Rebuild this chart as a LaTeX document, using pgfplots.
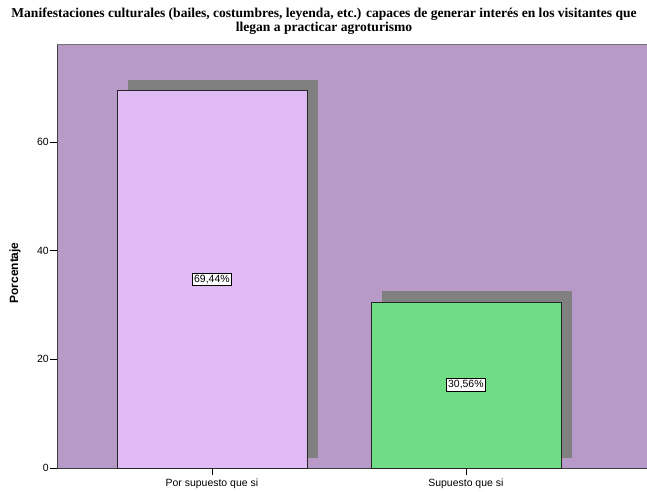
\documentclass[border=0pt]{standalone}
\usepackage{fontspec}
\setmainfont{Liberation Serif}
\setsansfont{Liberation Sans}
\usepackage{pgfplots}
\pgfplotsset{compat=1.18}
\definecolor{bgp}{RGB}{184,154,200}
\definecolor{bara}{RGB}{223,186,243}
\definecolor{barb}{RGB}{112,221,134}
\definecolor{shd}{RGB}{128,128,128}
\begin{document}
\begin{tikzpicture}
\useasboundingbox (0,0) rectangle (647bp,492bp);
\node[font=\bfseries\fontsize{13.6}{14}\selectfont, align=center, inner sep=0pt] at (324bp,471bp) {Manifestaciones culturales (bailes, costumbres, leyenda, etc.) capaces de generar interés en los visitantes que\\llegan a practicar agroturismo};
\begin{axis}[
  at={(57bp,24bp)}, anchor=south west,
  scale only axis, width=593bp, height=424bp,
  xmin=-0.61, xmax=1.725, ymin=0, ymax=78,
  axis lines*=left,
  axis line style={-, draw=black!75, line width=0.8pt},
  axis background/.style={fill=bgp},
  ytick={0,20,40,60},
  xtick={0,1},
  xticklabels={Por supuesto que si, Supuesto que si},
  tick align=outside,
  major tick length=7bp,
  tick style={black, thin},
  /pgf/number format/assume math mode=true,
  ticklabel style={font=\sffamily\fontsize{10.5}{12}\selectfont},
  yticklabel style={inner sep=1bp},
  ylabel={Porcentaje},
  ylabel style={font=\sffamily\bfseries\fontsize{12}{14}\selectfont, at={(axis description cs:-0.0709,0.46)}, anchor=center},
  clip=false,
]
% shadows
\addplot[fill=shd, draw=none] coordinates {(-0.331,1.85) (0.417,1.85) (0.417,71.46) (-0.331,71.46)} -- cycle;
\addplot[fill=shd, draw=none] coordinates {(0.669,1.85) (1.417,1.85) (1.417,32.58) (0.669,32.58)} -- cycle;
% bars
\addplot[ybar, bar width=0.748, bar shift=0pt, fill=bara, draw=black!85] coordinates {(0,69.44)};
\addplot[ybar, bar width=0.748, bar shift=0pt, fill=barb, draw=black!85] coordinates {(1,30.56)};
% labels
\addplot[only marks, mark=none, point meta=explicit symbolic,
  nodes near coords,
  nodes near coords style={anchor=center, fill=white, draw=black, inner sep=2bp, font=\sffamily\fontsize{10.5}{12}\selectfont}]
  coordinates {(0,34.72) [69,44\%] (1,15.28) [30,56\%]};
\draw[black!55, line width=0.8pt] (rel axis cs:0,1) -- (rel axis cs:1,1);
\end{axis}
\end{tikzpicture}
\end{document}
